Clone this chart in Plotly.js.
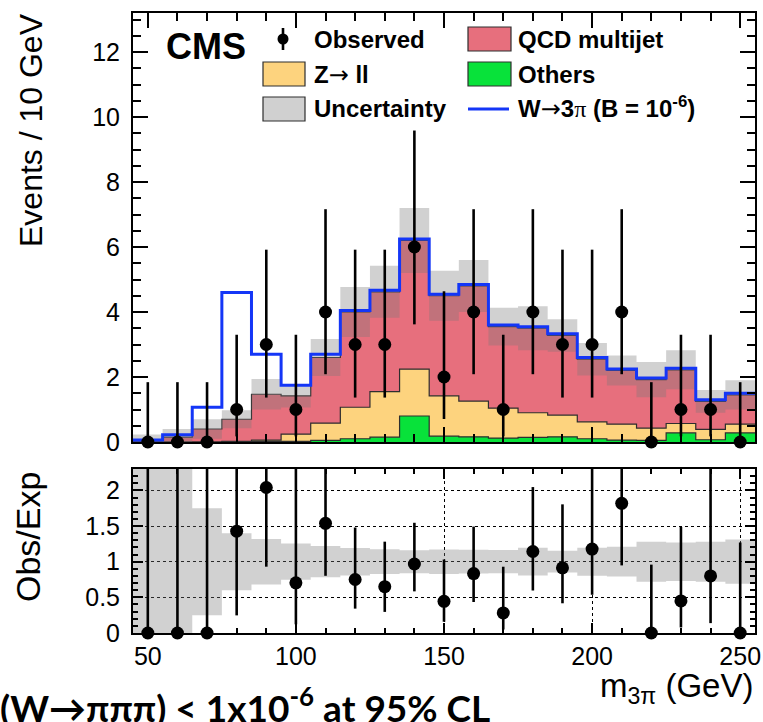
<!DOCTYPE html>
<html><head><meta charset="utf-8">
<script src="https://cdn.plot.ly/plotly-3.0.1.min.js"></script>
<style>html,body{margin:0;padding:0;background:#fff;} #chart{width:763px;height:722px;}</style>
</head><body><div id="chart"></div>
<script>
// ---- data ----
const binCenters = [50,60,70,80,90,100,110,120,130,140,150,160,170,180,190,200,210,220,230,240,250];
const observed   = [0,0,0,1,3,1,4,3,3,6,2,4,1,4,3,3,4,0,1,1,0];
const qcd        = [0.03,0.15,0.40,0.68,1.41,1.18,2.02,2.93,3.07,3.96,3.08,3.54,2.51,2.60,2.45,1.93,1.65,1.49,1.65,0.86,0.90];
const zll        = [0,0,0,0.01,0.04,0.22,0.53,0.97,1.40,1.44,1.24,1.10,0.92,0.76,0.67,0.52,0.49,0.38,0.29,0.32,0.27];
const others     = [0,0,0,0.01,0.02,0.02,0.05,0.10,0.15,0.80,0.18,0.16,0.12,0.14,0.16,0.10,0.06,0.05,0.28,0.07,0.28];
const signal     = [0.03,0.07,0.67,3.90,1.23,0.33,0.10,0.05,0.05,0.05,0.05,0.05,0.05,0.05,0.05,0.05,0.05,0.05,0.05,0.05,0.05];
const bkgUnc     = [0.20,0.25,0.30,0.28,0.47,0.36,0.57,0.77,0.80,1.00,0.77,0.80,0.58,0.68,0.50,0.50,0.46,0.54,0.60,0.35,0.45];
// Garwood 68% Poisson intervals for n = 0..6
const garwoodLow  = [0, 0.173, 0.708, 1.367, 2.086, 2.840, 3.620];
const garwoodHigh = [1.841, 3.300, 4.638, 5.918, 7.163, 8.382, 9.584];
const binWidth = 10;
const xTickVals = [50,100,150,200,250];

// ---- derived ----
const edges = binCenters.map(c => c - binWidth/2).concat([binCenters[binCenters.length-1] + binWidth/2]);
const step = arr => arr.concat([arr[arr.length-1]]);
const othersTop = others.slice();
const zllTop = others.map((v,i) => v + zll[i]);
const total = zllTop.map((v,i) => v + qcd[i]);
const totalSig = total.map((v,i) => v + signal[i]);
const uncLo = total.map((v,i) => Math.max(0, v - bkgUnc[i]));
const uncHi = total.map((v,i) => v + bkgUnc[i]);
const obsUp = observed.map(n => garwoodHigh[n] - n);
const obsDn = observed.map(n => n - garwoodLow[n]);
const ratio = observed.map((n,i) => n / total[i]);
const R_MAX = 2.3;
const ratioUp = observed.map((n,i) => Math.min((garwoodHigh[n]-n)/total[i], R_MAX - ratio[i]));
const ratioDn = observed.map((n,i) => (n - garwoodLow[n])/total[i]);
const rBandLo = total.map((v,i) => Math.max(-0.5, 1 - bkgUnc[i]/v));
const rBandHi = total.map((v,i) => Math.min(3, 1 + bkgUnc[i]/v));

const C_QCD = '#e76f7d', C_Z = '#fdd37e', C_OTH = '#08e23a', C_SIG = '#1436f7';
const C_OUT = '#2e2e2e';
const UNC_FILL = 'rgba(120,120,120,0.34)';

const xE = edges;
const traces = [
  {x: xE, y: step(total), type: 'scatter', mode: 'lines', line: {shape: 'hv', color: C_OUT, width: 1.2}, fill: 'tozeroy', fillcolor: C_QCD, xaxis: 'x', yaxis: 'y', hoverinfo: 'skip'},
  {x: xE, y: step(zllTop), type: 'scatter', mode: 'lines', line: {shape: 'hv', color: C_OUT, width: 1.2}, fill: 'tozeroy', fillcolor: C_Z, xaxis: 'x', yaxis: 'y', hoverinfo: 'skip'},
  {x: xE, y: step(othersTop), type: 'scatter', mode: 'lines', line: {shape: 'hv', color: C_OUT, width: 1.2}, fill: 'tozeroy', fillcolor: C_OTH, xaxis: 'x', yaxis: 'y', hoverinfo: 'skip'},
  {x: xE, y: step(uncLo), type: 'scatter', mode: 'lines', line: {shape: 'hv', width: 0, color: 'rgba(0,0,0,0)'}, xaxis: 'x', yaxis: 'y', hoverinfo: 'skip'},
  {x: xE, y: step(uncHi), type: 'scatter', mode: 'lines', line: {shape: 'hv', width: 0, color: 'rgba(0,0,0,0)'}, fill: 'tonexty', fillcolor: UNC_FILL, xaxis: 'x', yaxis: 'y', hoverinfo: 'skip'},
  {x: xE, y: step(totalSig), type: 'scatter', mode: 'lines', line: {shape: 'hv', color: C_SIG, width: 3}, xaxis: 'x', yaxis: 'y', hoverinfo: 'skip'},
  {x: binCenters, y: observed, type: 'scatter', mode: 'markers', marker: {color: '#000', size: 13},
   error_y: {type: 'data', symmetric: false, array: obsUp, arrayminus: obsDn, color: '#000', thickness: 2.6, width: 0},
   cliponaxis: false, xaxis: 'x', yaxis: 'y'},
  {x: xE, y: step(rBandLo), type: 'scatter', mode: 'lines', line: {shape: 'hv', width: 0, color: 'rgba(0,0,0,0)'}, xaxis: 'x2', yaxis: 'y2', hoverinfo: 'skip'},
  {x: xE, y: step(rBandHi), type: 'scatter', mode: 'lines', line: {shape: 'hv', width: 0, color: 'rgba(0,0,0,0)'}, fill: 'tonexty', fillcolor: UNC_FILL, xaxis: 'x2', yaxis: 'y2', hoverinfo: 'skip'},
  {x: binCenters, y: ratio, type: 'scatter', mode: 'markers', marker: {color: '#000', size: 13},
   error_y: {type: 'data', symmetric: false, array: ratioUp, arrayminus: ratioDn, color: '#000', thickness: 2.6, width: 0},
   cliponaxis: false, xaxis: 'x2', yaxis: 'y2'}
];

// ---- layout ----
const L = 133, T = 13, W = 622, H = 620;
const fx = x => (x - L) / W;
const fy = y => 1 - (y - T) / H;
const FONT = 'Liberation Sans, Arial, sans-serif';
const tickFont = {family: FONT, size: 25, color: '#000'};

const axBase = {showline: true, linecolor: '#000', linewidth: 2, mirror: 'ticks', ticks: 'inside', tickcolor: '#000', tickwidth: 2, zeroline: false, showgrid: false, tickfont: tickFont, range: [45, 255], fixedrange: true};

const legendText = (t, x, y) => ({text: t, x: fx(x), y: fy(y), xref: 'paper', yref: 'paper', xanchor: 'left', yanchor: 'middle', showarrow: false, borderpad: 0, font: {family: FONT, size: 24, color: '#000', weight: 'bold'}});
const box = (x0, y0, x1, y1, color) => ({type: 'rect', xref: 'paper', yref: 'paper', x0: fx(x0), x1: fx(x1), y0: fy(y0), y1: fy(y1), fillcolor: color, line: {color: C_OUT, width: 1.2}});
const ARROW = '<span style="font-weight:normal;font-family:DejaVu Sans">→</span>';

const layout = {
  width: 763, height: 722,
  margin: {l: L, r: 763 - L - W, t: T, b: 722 - T - H, pad: 0},
  paper_bgcolor: '#fff', plot_bgcolor: '#fff',
  showlegend: false,
  xaxis: Object.assign({}, axBase, {anchor: 'y', domain: [0, 1], tickvals: xTickVals, showticklabels: false, ticklen: 15, minor: {dtick: 10, tick0: 0, ticks: 'inside', ticklen: 8, tickcolor: '#000', tickwidth: 2}}),
  yaxis: Object.assign({}, axBase, {anchor: 'x', domain: [(633-442)/H, 1], range: [0, 13.2], dtick: 2, tick0: 0, ticklen: 15, ticklabelstandoff: 6, minor: {dtick: 0.5, ticks: 'inside', ticklen: 8, tickcolor: '#000', tickwidth: 2}}),
  xaxis2: Object.assign({}, axBase, {anchor: 'y2', domain: [0, 1], tickvals: xTickVals, ticklen: 10, showgrid: true, gridcolor: '#000', griddash: 'dot', gridwidth: 1, minor: {dtick: 10, tick0: 0, ticks: 'inside', ticklen: 5, tickcolor: '#000', tickwidth: 2}}),
  yaxis2: Object.assign({}, axBase, {anchor: 'x2', domain: [0, (633-469)/H], range: [0, 2.3], tickvals: [0, 0.5, 1, 1.5, 2], ticktext: ['0', '0.5', '1', '1.5', '2'], ticklen: 10, ticklabelstandoff: 6, showgrid: true, gridcolor: '#000', griddash: 'dot', gridwidth: 1, minor: {dtick: 0.1, ticks: 'inside', ticklen: 5, tickcolor: '#000', tickwidth: 2}}),
  shapes: [
    {type: 'line', xref: 'paper', yref: 'paper', x0: fx(283), x1: fx(283), y0: fy(28), y1: fy(50), line: {color: '#000', width: 2.6}},
    {type: 'circle', xref: 'paper', yref: 'paper', x0: fx(277.5), x1: fx(288.5), y0: fy(33.5), y1: fy(44.5), fillcolor: '#000', line: {color: '#000', width: 0}},
    box(468, 27, 511, 51, C_QCD),
    box(263, 62, 305, 86, C_Z),
    box(468, 62, 511, 86, C_OTH),
    box(263, 97, 305, 121, 'rgb(208,208,208)'),
    {type: 'line', xref: 'paper', yref: 'paper', x0: fx(468), x1: fx(509), y0: fy(109), y1: fy(109), line: {color: C_SIG, width: 3}}
  ],
  annotations: [
    {text: 'CMS', x: fx(165), y: fy(47), xref: 'paper', yref: 'paper', xanchor: 'left', yanchor: 'middle', showarrow: false, borderpad: 0, font: {family: FONT, size: 36, color: '#000', weight: 'bold'}},
    legendText('Observed', 313, 39),
    legendText('QCD multijet', 517, 39),
    legendText('Z' + ARROW + ' ll', 313, 75),
    legendText('Others', 517, 74),
    legendText('Uncertainty', 313, 109),
    legendText('W' + ARROW + '3<span style="font-weight:normal;font-family:Liberation Serif">π</span> (B = 10<sup>-6</sup>)', 517, 108),
    {text: 'Events / 10 GeV', textangle: -90, x: fx(31), y: fy(130), xref: 'paper', yref: 'paper', xanchor: 'center', yanchor: 'middle', showarrow: false, borderpad: 0, font: {family: FONT, size: 32, color: '#000'}},
    {text: 'Obs/Exp', textangle: -90, x: fx(28), y: fy(537), xref: 'paper', yref: 'paper', xanchor: 'center', yanchor: 'middle', showarrow: false, borderpad: 0, font: {family: FONT, size: 34, color: '#000'}},
    {text: 'm<sub>3π</sub> (GeV)', x: fx(754), y: fy(688), xref: 'paper', yref: 'paper', xanchor: 'right', yanchor: 'middle', showarrow: false, borderpad: 0, font: {family: FONT, size: 33, color: '#000'}},
    {text: '(W→πππ) < 1x10<sup>-6</sup> at 95% CL', x: fx(-1), y: fy(705), xref: 'paper', yref: 'paper', xanchor: 'left', yanchor: 'middle', showarrow: false, borderpad: 0, font: {family: 'Lato, Noto Sans, sans-serif', size: 37, color: '#000', weight: 'bold'}}
  ]
};

Plotly.newPlot('chart', traces, layout, {displayModeBar: false, staticPlot: true});
</script>
</body></html>
